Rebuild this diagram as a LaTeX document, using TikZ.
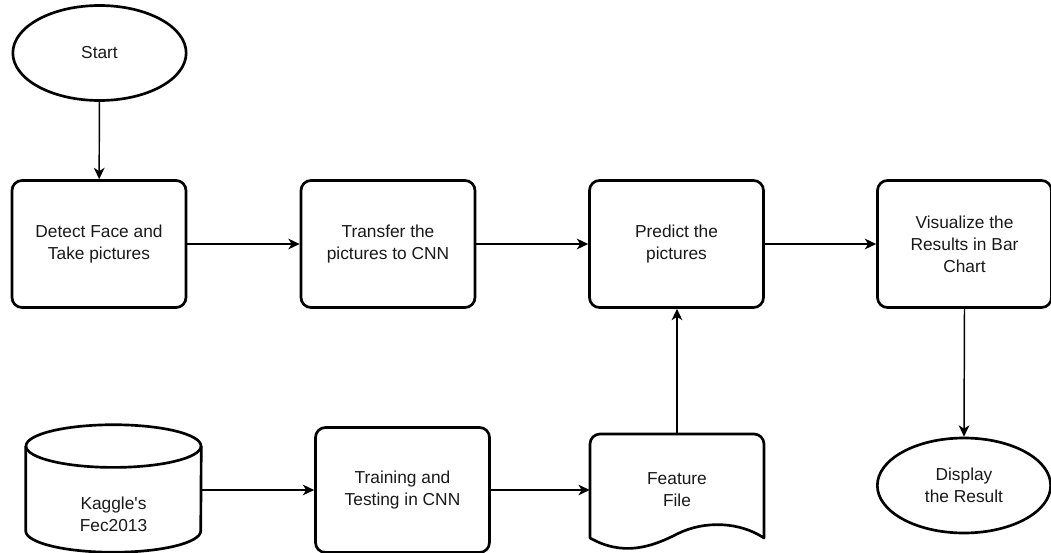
\documentclass[tikz,border=0pt]{standalone}
\usepackage{fontspec}
\setmainfont{Liberation Sans}
\usetikzlibrary{shapes.geometric,arrows.meta}

\begin{document}
\begin{tikzpicture}[x=0.75pt, y=-0.75pt,
  every node/.style={font=\fontsize{13}{16.5}\selectfont, align=center, text=black!90},
  proc node/.style={rectangle, rounded corners=7.5pt, draw, line width=2pt, minimum width=130.5pt, minimum height=95.25pt, inner sep=0pt},
  term node/.style={ellipse, draw, line width=2pt, minimum width=130pt, minimum height=71.25pt, inner sep=0pt},
  hidden node/.style={rectangle, inner sep=0pt},
  outline/.style={draw, line width=2pt, line join=round},
  flow/.style={-{Stealth[length=8.5pt,width=8pt,inset=2.5pt]}, line width=1.1pt}]

\useasboundingbox (0,0) rectangle (1051,553);

\node[term node] (start) at (99.5,53) {Start};
\node[proc node] (detect) at (99,244) {Detect Face and\\Take pictures};
\node[proc node] (transfer) at (388,244) {Transfer the\\pictures to CNN};
\node[proc node] (predict) at (676.5,244) {Predict the\\pictures};
\node[proc node] (visual) at (964.5,244) {Visualize the\\Results in Bar\\Chart};
\node[term node] (display) at (964,485.5) {Display\\the Result};
\node[proc node, minimum height=93.75pt] (train) at (402.5,490) {Training and\\Testing in CNN};

% database cylinder
\node[hidden node, minimum width=131.25pt, minimum height=95.25pt,
  label={[align=center, yshift=-19.5pt]center:{Kaggle\textquotesingle s\\Fec2013}}] (db) at (113.5,488.5) {};
\draw[outline] ([yshift=-16pt]db.north) ellipse [x radius=65.625pt, y radius=16pt];
\draw[outline] ([yshift=-16pt]db.north west) -- ([yshift=16pt]db.south west)
  arc[start angle=180, end angle=360, x radius=65.625pt, y radius=16pt] -- ([yshift=-16pt]db.north east);

% feature document
\node[hidden node, minimum width=130.5pt, minimum height=85.5pt] (feat) at (677,490) {Feature\\File};
\draw[outline] (764,538) [rounded corners=7.5pt] -- (764,434) -- (590,434) [sharp corners] -- (590,538)
  .. controls (622,556) and (650,548) .. (677,534)
  .. controls (705,520) and (740,522) .. (764,538) -- cycle;

\path[] (start) [flow] edge node [] {} (detect);
\path[] (detect) [flow] edge node [] {} (transfer);
\path[] (transfer) [flow] edge node [] {} (predict);
\path[] (predict) [flow] edge node [] {} (visual);
\path[] (visual.south) [flow] edge node [] {} (display.north);
\path[] (train.west -| db.east) [flow] edge node [] {} (train.west);
\path[] (train.east) [flow] edge node [] {} (train.east -| feat.west);
\path[] (feat.north) [flow] edge node [] {} (feat.north |- predict.south);
\end{tikzpicture}
\end{document}
